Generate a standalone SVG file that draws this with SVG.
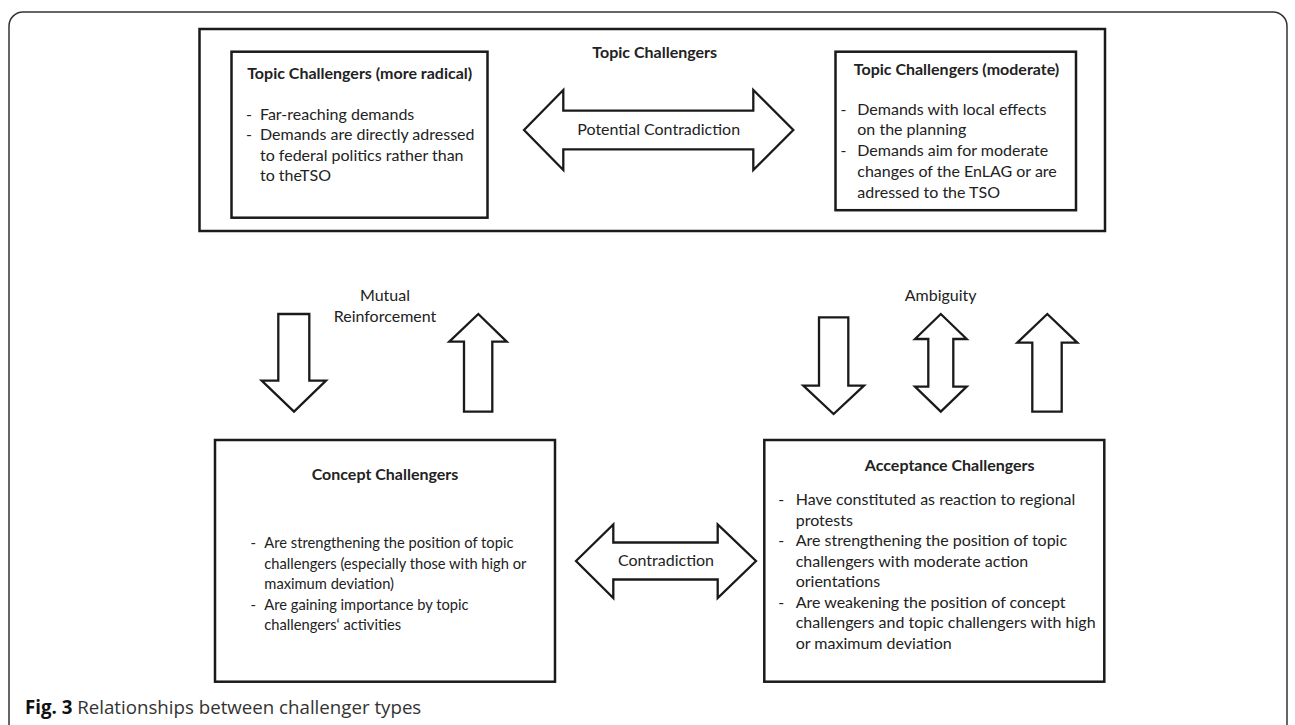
<svg xmlns="http://www.w3.org/2000/svg" width="1295" height="725" viewBox="0 0 1295 725">
<style>
.frame{fill:none;stroke:#333;stroke-width:1.5}
.box{fill:#fff;stroke:#1a1a1a;stroke-width:2.5}
.arrow{fill:#fff;stroke:#1a1a1a;stroke-width:2.3;stroke-linejoin:miter}
text{font-family:Lato,"Liberation Sans",sans-serif;font-size:16px;fill:#222}
.t{font-weight:bold;text-anchor:middle}
.c{text-anchor:middle}
.s{font-size:14.7px}
.cap{font-family:"Open Sans","Noto Sans","Liberation Sans",sans-serif;font-size:18.7px;fill:#333}
.capb{font-weight:bold;fill:#111}
</style>
<rect class="frame" x="9" y="12" width="1278" height="740" rx="14"/>
<g id="topic-challengers">
<rect class="box" x="199.5" y="29" width="905.5" height="202"/>
<text class="t" x="654.7" y="58">Topic Challengers</text>
</g>
<g id="radical">
<rect class="box" x="231.5" y="51.7" width="256" height="166"/>
<text class="t" x="359.7" y="78.7">Topic Challengers (more radical)</text>
<text x="246" y="119.7">-</text><text x="260" y="119.7">Far-reaching demands</text>
<text x="246" y="140.2">-</text><text x="260" y="140.2">Demands are directly adressed</text>
<text x="260" y="160.7">to federal politics rather than</text>
<text x="260" y="181.2">to theTSO</text>
</g>
<g id="moderate">
<rect class="box" x="835.5" y="51.7" width="240.5" height="158.5"/>
<text class="t" x="956.5" y="75.4">Topic Challengers (moderate)</text>
<text x="840.5" y="114.7">-</text><text x="857.3" y="114.7">Demands with local effects</text>
<text x="857.3" y="135.4">on the planning</text>
<text x="840.5" y="156.1">-</text><text x="857.3" y="156.1">Demands aim for moderate</text>
<text x="857.3" y="176.8">changes of the EnLAG or are</text>
<text x="857.3" y="197.5">adressed to the TSO</text>
</g>
<g id="concept">
<rect class="box" x="215" y="440" width="340" height="241.7"/>
<text class="t" x="385" y="480">Concept Challengers</text>
<text class="s" x="250.5" y="548">-</text><text class="s" x="264.3" y="548">Are strengthening the position of topic</text>
<text class="s" x="264.3" y="568.5">challengers (especially those with high or</text>
<text class="s" x="264.3" y="589">maximum deviation)</text>
<text class="s" x="250.5" y="609.5">-</text><text class="s" x="264.3" y="609.5">Are gaining importance by topic</text>
<text class="s" x="264.3" y="630">challengers‘ activities</text>
</g>
<g id="acceptance">
<rect class="box" x="764.3" y="440" width="340" height="241.7"/>
<text class="t" x="949.7" y="470.7">Acceptance Challengers</text>
<text x="778.3" y="505.3">-</text><text x="795.7" y="505.3">Have constituted as reaction to regional</text>
<text x="795.7" y="525.8">protests</text>
<text x="778.3" y="546.3">-</text><text x="795.7" y="546.3">Are strengthening the position of topic</text>
<text x="795.7" y="566.8">challengers with moderate action</text>
<text x="795.7" y="587.3">orientations</text>
<text x="778.3" y="607.8">-</text><text x="795.7" y="607.8">Are weakening the position of concept</text>
<text x="795.7" y="628.3">challengers and topic challengers with high</text>
<text x="795.7" y="648.8">or maximum deviation</text>
</g>
<g id="connectors">
<polygon class="arrow" points="524,130 563.3,90 563.3,110.7 753.3,110.7 753.3,90 793.3,130 753.3,170 753.3,149.3 563.3,149.3 563.3,170"/>
<text class="c" x="658.7" y="134.7">Potential Contradiction</text>
<polygon class="arrow" points="278.3,314 309.3,314 309.3,380.7 326,380.7 294,411.7 261.7,380.7 278.3,380.7"/>
<polygon class="arrow" points="478.3,314 506.7,341.7 492.3,341.7 492.3,411.7 464,411.7 464,341.7 449.3,341.7"/>
<text class="c" x="385" y="301.4">Mutual</text>
<text class="c" x="385" y="322">Reinforcement</text>
<polygon class="arrow" points="819,317.3 848.3,317.3 848.3,385.7 864,385.7 833.6,414 803.3,385.7 819,385.7"/>
<polygon class="arrow" points="940.8,314 966.7,339 953.3,339 953.3,386.7 966.7,386.7 940.8,411.7 915,386.7 928.3,386.7 928.3,339 915,339"/>
<polygon class="arrow" points="1047.3,314 1077.3,342.7 1061.7,342.7 1061.7,411.7 1032.3,411.7 1032.3,342.7 1017.3,342.7"/>
<text class="c" x="940.7" y="301.4">Ambiguity</text>
<polygon class="arrow" points="576,561 613.3,524.5 613.3,542.5 717.7,542.5 717.7,524.5 756,561 717.7,598 717.7,579.5 613.3,579.5 613.3,598"/>
<text class="c" x="666" y="566">Contradiction</text>
</g>
<text class="cap" x="25" y="714"><tspan class="capb">Fig. 3</tspan> Relationships between challenger types</text>
</svg>
